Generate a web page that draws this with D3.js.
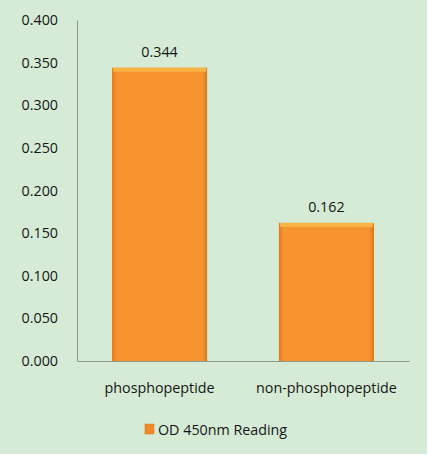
<!DOCTYPE html>
<html>
<head>
<meta charset="utf-8">
<script src="https://cdn.jsdelivr.net/npm/d3@7"></script>
<style>
  body { margin: 0; background: #fff; }
  text { font-family: "Open Sans", sans-serif; fill: #161616; }
</style>
</head>
<body>
<div id="chart"></div>
<script>
// chart data
var categories = ["phosphopeptide", "non-phosphopeptide"];
var readings = [0.344, 0.162];
var yTicks = [0, 0.05, 0.1, 0.15, 0.2, 0.25, 0.3, 0.35, 0.4];
var seriesName = "OD 450nm Reading";

var W = 429, H = 457;
var margin = { top: 20, right: 20, bottom: 96, left: 77 };
var width = 409 - margin.left;
var height = 361 - margin.top;
var fontSize = 14.3;

var svg = d3.select("#chart").append("svg")
    .attr("width", W)
    .attr("height", H);

// background panel
svg.append("rect")
    .attr("x", 0).attr("y", 0)
    .attr("width", 427).attr("height", 454)
    .attr("fill", "#d5ebd5");

var defs = svg.append("defs");
var grad = defs.append("linearGradient")
    .attr("id", "barGrad")
    .attr("x1", 0).attr("x2", 1).attr("y1", 0).attr("y2", 0);
grad.append("stop").attr("offset", "0%").attr("stop-color", "#e07a1e");
grad.append("stop").attr("offset", "5%").attr("stop-color", "#f79430");
grad.append("stop").attr("offset", "95%").attr("stop-color", "#f79430");
grad.append("stop").attr("offset", "100%").attr("stop-color", "#dc761c");

var g = svg.append("g")
    .attr("transform", "translate(" + margin.left + "," + margin.top + ")");

// scales
var x = d3.scaleBand()
    .domain(categories)
    .range([0, width])
    .paddingInner(0.43)
    .paddingOuter(0.21);

var y = d3.scaleLinear()
    .domain([0, 0.4])
    .range([height, 0]);

// y axis
var yAxis = d3.axisLeft(y)
    .tickValues(yTicks)
    .tickFormat(d3.format(".3f"))
    .tickSize(0)
    .tickPadding(19);

g.append("g")
    .attr("class", "y-axis")
    .call(yAxis)
    .call(a => a.select(".domain").attr("stroke", "#8a9a8a"))
    .selectAll("text")
    .attr("font-size", fontSize)
    .attr("fill", "#161616")
    .style("font-family", "'Open Sans', sans-serif");

// x axis
var xAxis = d3.axisBottom(x).tickSize(0).tickPadding(22);
g.append("g")
    .attr("class", "x-axis")
    .attr("transform", "translate(0," + height + ")")
    .call(xAxis)
    .call(a => a.select(".domain").attr("stroke", "#8a9a8a"))
    .selectAll("text")
    .attr("font-size", fontSize)
    .attr("fill", "#161616")
    .style("font-family", "'Open Sans', sans-serif");

// bars
var bars = g.selectAll(".bar")
    .data(readings)
    .enter().append("g")
    .attr("class", "bar");

bars.append("rect")
    .attr("x", (d, i) => x(categories[i]))
    .attr("y", d => y(d))
    .attr("width", x.bandwidth())
    .attr("height", d => height - y(d))
    .attr("fill", "url(#barGrad)");

// top bevel
bars.append("rect")
    .attr("x", (d, i) => x(categories[i]) + 1)
    .attr("y", d => y(d))
    .attr("width", x.bandwidth() - 2)
    .attr("height", 4)
    .attr("fill", "#f8b444");

// value labels
g.selectAll(".bar-label")
    .data(readings)
    .enter().append("text")
    .attr("class", "bar-label")
    .attr("x", (d, i) => x(categories[i]) + x.bandwidth() / 2)
    .attr("y", d => y(d) - 11)
    .attr("text-anchor", "middle")
    .attr("font-size", fontSize)
    .text(d => d3.format(".3f")(d));

// legend
var legend = svg.append("g")
    .attr("transform", "translate(145,430)");
legend.append("rect")
    .attr("x", 0).attr("y", -6)
    .attr("width", 9).attr("height", 10)
    .attr("fill", "#f08a28")
    .attr("stroke", "#d8741a")
    .attr("stroke-width", 0.5);
legend.append("text")
    .attr("x", 13)
    .attr("y", 5)
    .attr("font-size", fontSize)
    .text(seriesName);
</script>
</body>
</html>
